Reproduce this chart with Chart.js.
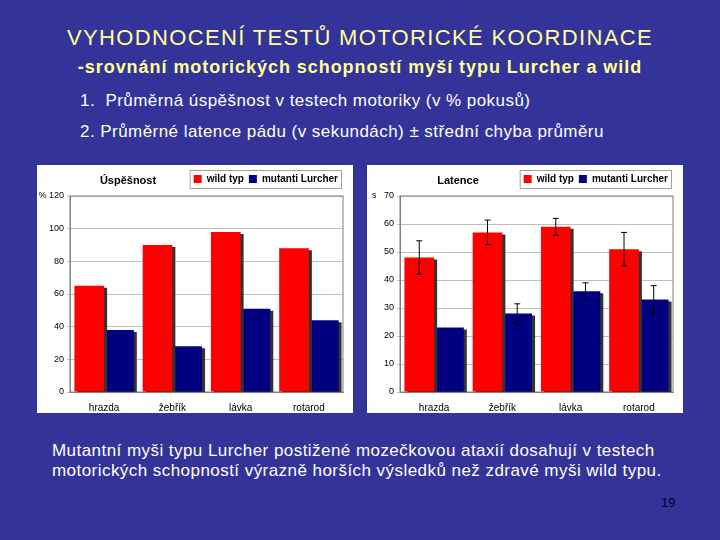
<!DOCTYPE html>
<html>
<head>
<meta charset="utf-8">
<script src="https://cdn.jsdelivr.net/npm/chart.js@4"></script>
<style>
  body { margin: 0; width: 720px; height: 540px; background: #333399; font-family: Arial, "Liberation Sans", sans-serif; position: relative; overflow: hidden; }
  .txt { position: absolute; white-space: pre; }
  .nadpis { color: #ffff99; left: 0; width: 720px; text-align: center; }
  .panel { position: absolute; top: 165px; width: 316px; height: 248px; background: #fff; }
  .panel .titulek { position: absolute; top: 9px; left: 41px; width: 100px; text-align: center; font: bold 11px Arial, "Liberation Sans", sans-serif; color: #000; }
</style>
</head>
<body>
<div class="txt nadpis" style="top:25px;font-size:22px;letter-spacing:1.35px;">VYHODNOCENÍ TESTŮ MOTORICKÉ KOORDINACE</div>
<div class="txt nadpis" style="top:57px;font-size:18px;font-weight:bold;letter-spacing:0.95px;">-srovnání motorických schopností myší typu Lurcher a wild</div>
<div class="txt" style="top:91px;left:80px;font-size:17px;color:#fff;letter-spacing:0.45px;">1.  Průměrná úspěšnost v testech motoriky (v % pokusů)</div>
<div class="txt" style="top:122px;left:80px;font-size:17px;color:#fff;letter-spacing:0.45px;">2. Průměrné latence pádu (v sekundách) ± střední chyba průměru</div>

<div class="panel" style="left:37px;">
  <canvas id="graf-uspesnost"></canvas>
  <div class="titulek">Úspěšnost</div>
</div>
<div class="panel" style="left:367px;">
  <canvas id="graf-latence"></canvas>
  <div class="titulek">Latence</div>
</div>

<div class="txt" style="top:441px;left:52px;font-size:17px;color:#fff;letter-spacing:0.45px;">Mutantní myši typu Lurcher postižené mozečkovou ataxií dosahují v testech
motorických schopností výrazně horších výsledků než zdravé myši wild typu.</div>
<div class="txt" style="top:495px;left:661px;font-size:13px;color:#000033;">19</div>

<script>
const kategorie = ['hrazda', 'žebřík', 'lávka', 'rotarod'];
const uspesnostWild = [65, 90, 98, 88];
const uspesnostLurcher = [38, 28, 51, 44];
const latenceWild = [48, 57, 59, 51];
const latenceLurcher = [23, 28, 36, 33];
const chybaWild = [6, 4.4, 3, 6];
const chybaLurcher = [0, 3.5, 3, 5];

const cervena = '#ff0000';
const modra = '#000080';

Chart.defaults.font.family = 'Arial, "Liberation Sans", sans-serif';
Chart.defaults.color = '#000';

// rámeček plochy + stín pod sloupci
const stin = {
  id: 'stin',
  beforeDatasetsDraw(chart) {
    const ctx = chart.ctx, a = chart.chartArea;
    ctx.save();
    ctx.strokeStyle = '#808080';
    ctx.lineWidth = 1;
    ctx.strokeRect(a.left, a.top, a.right - a.left, a.bottom - a.top);
    ctx.restore();
    ctx.save();
    ctx.shadowColor = '#333';
    ctx.shadowOffsetX = 3;
    ctx.shadowOffsetY = 2;
    ctx.shadowBlur = 0;
  },
  afterDatasetsDraw(chart) {
    chart.ctx.restore();
  }
};

// rámeček legendy
const ramecekLegendy = {
  id: 'ramecekLegendy',
  beforeInit(chart) {
    const fit = chart.legend.fit;
    chart.legend.fit = function () {
      fit.call(this);
      this.height = 27;
    };
  },
  afterDraw(chart) {
    const boxy = chart.legend.legendHitBoxes;
    if (!boxy || !boxy.length) return;
    const l = Math.min(...boxy.map(b => b.left)) - 4;
    const r = Math.max(...boxy.map(b => b.left + b.width)) + 3;
    const t = Math.min(...boxy.map(b => b.top)) - 4;
    const d = Math.max(...boxy.map(b => b.top + b.height)) + 4;
    const ctx = chart.ctx;
    ctx.save();
    ctx.strokeStyle = '#a0a0a0';
    ctx.lineWidth = 1;
    ctx.strokeRect(l + 0.5, t + 0.5, r - l, d - t);
    ctx.restore();
  }
};

// chybové úsečky
const chyby = {
  id: 'chyby',
  afterDraw(chart) {
    const ctx = chart.ctx;
    const y = chart.scales.y;
    chart.data.datasets.forEach((ds, i) => {
      if (!ds.chyby) return;
      chart.getDatasetMeta(i).data.forEach((bar, j) => {
        const e = ds.chyby[j];
        if (!e) return;
        const v = ds.data[j];
        const y1 = y.getPixelForValue(v + e), y2 = y.getPixelForValue(v - e);
        ctx.save();
        ctx.strokeStyle = '#000';
        ctx.lineWidth = 1;
        ctx.beginPath();
        ctx.moveTo(bar.x, y1); ctx.lineTo(bar.x, y2);
        ctx.moveTo(bar.x - 3, y1); ctx.lineTo(bar.x + 3, y1);
        ctx.moveTo(bar.x - 3, y2); ctx.lineTo(bar.x + 3, y2);
        ctx.stroke();
        ctx.restore();
      });
    });
  }
};

function vytvorGraf(id, wild, lurcher, max, krok, jednotka, chybyW, chybyL) {
  return new Chart(document.getElementById(id), {
    type: 'bar',
    data: {
      labels: kategorie,
      datasets: [
        { label: 'wild typ', data: wild, backgroundColor: cervena, chyby: chybyW },
        { label: 'mutanti Lurcher', data: lurcher, backgroundColor: modra, chyby: chybyL }
      ]
    },
    options: {
      responsive: true,
      maintainAspectRatio: false,
      animation: false,
      layout: { padding: { top: 4, right: 10, left: 2, bottom: 0 } },
      datasets: { bar: { categoryPercentage: 0.87, barPercentage: 1.0 } },
      plugins: {
        legend: {
          position: 'top',
          align: 'end',
          labels: { boxWidth: 8, boxHeight: 8, padding: 5, font: { size: 10, weight: 'bold' }, color: '#000' }
        },
        tooltip: { enabled: false }
      },
      scales: {
        x: {
          grid: { display: false },
          border: { color: '#808080' },
          ticks: { font: { size: 10 }, padding: 2 },
          afterFit: s => { s.height = 21; }
        },
        y: {
          min: 0, max: max,
          ticks: {
            stepSize: krok,
            font: { size: 9 },
            padding: 3,
            callback: v => v === max ? jednotka + v : v
          },
          grid: { color: '#c0c0c0', tickLength: 3 },
          border: { color: '#808080' },
          afterFit: s => { s.width = 31; }
        }
      }
    },
    plugins: [stin, ramecekLegendy, chyby]
  });
}

vytvorGraf('graf-uspesnost', uspesnostWild, uspesnostLurcher, 120, 20, '% ', null, null);
vytvorGraf('graf-latence', latenceWild, latenceLurcher, 70, 10, 's   ', chybaWild, chybaLurcher);
</script>
</body>
</html>
